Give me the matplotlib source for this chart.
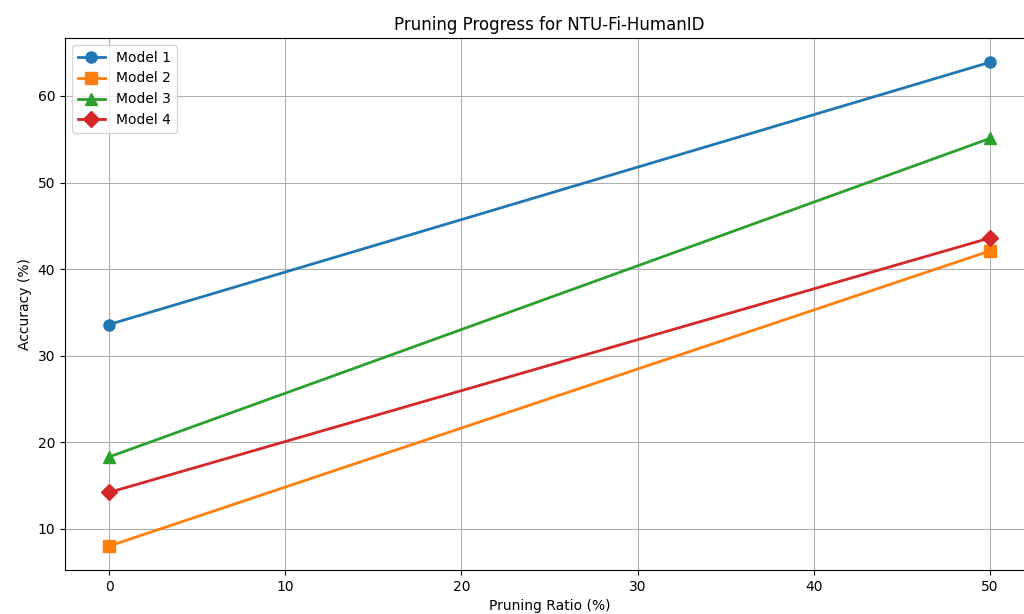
import matplotlib
matplotlib.use("Agg")
import matplotlib.pyplot as plt

pruning_ratios = [0, 50]
model_names = ["Model 1", "Model 2", "Model 3", "Model 4"]
accuracies = {
    "Model 1": [33.6, 63.9],
    "Model 2": [8.0, 42.1],
    "Model 3": [18.3, 55.1],
    "Model 4": [14.2, 43.6],
}
markers = ["o", "s", "^", "D"]
colors = ["#1f77b4", "#ff7f0e", "#2ca02c", "#d62728"]

fig = plt.figure(figsize=(10.24, 6.14), dpi=100)
ax = fig.add_axes([65/1024, 44/614, (1034-65)/1024, (570-38)/614])

for name, m, c in zip(model_names, markers, colors):
    ax.plot(pruning_ratios, accuracies[name], marker=m, color=c, linewidth=2,
            markersize=8, label=name)

ax.set_xlim(-2.5, 52.5)
ax.set_ylim(5.24, 66.7)
ax.set_title("Pruning Progress for NTU-Fi-HumanID")
ax.set_xlabel("Pruning Ratio (%)")
ax.set_ylabel("Accuracy (%)")
ax.grid(True)
ax.legend(loc="upper left")

fig.savefig("out.png", dpi=100)
